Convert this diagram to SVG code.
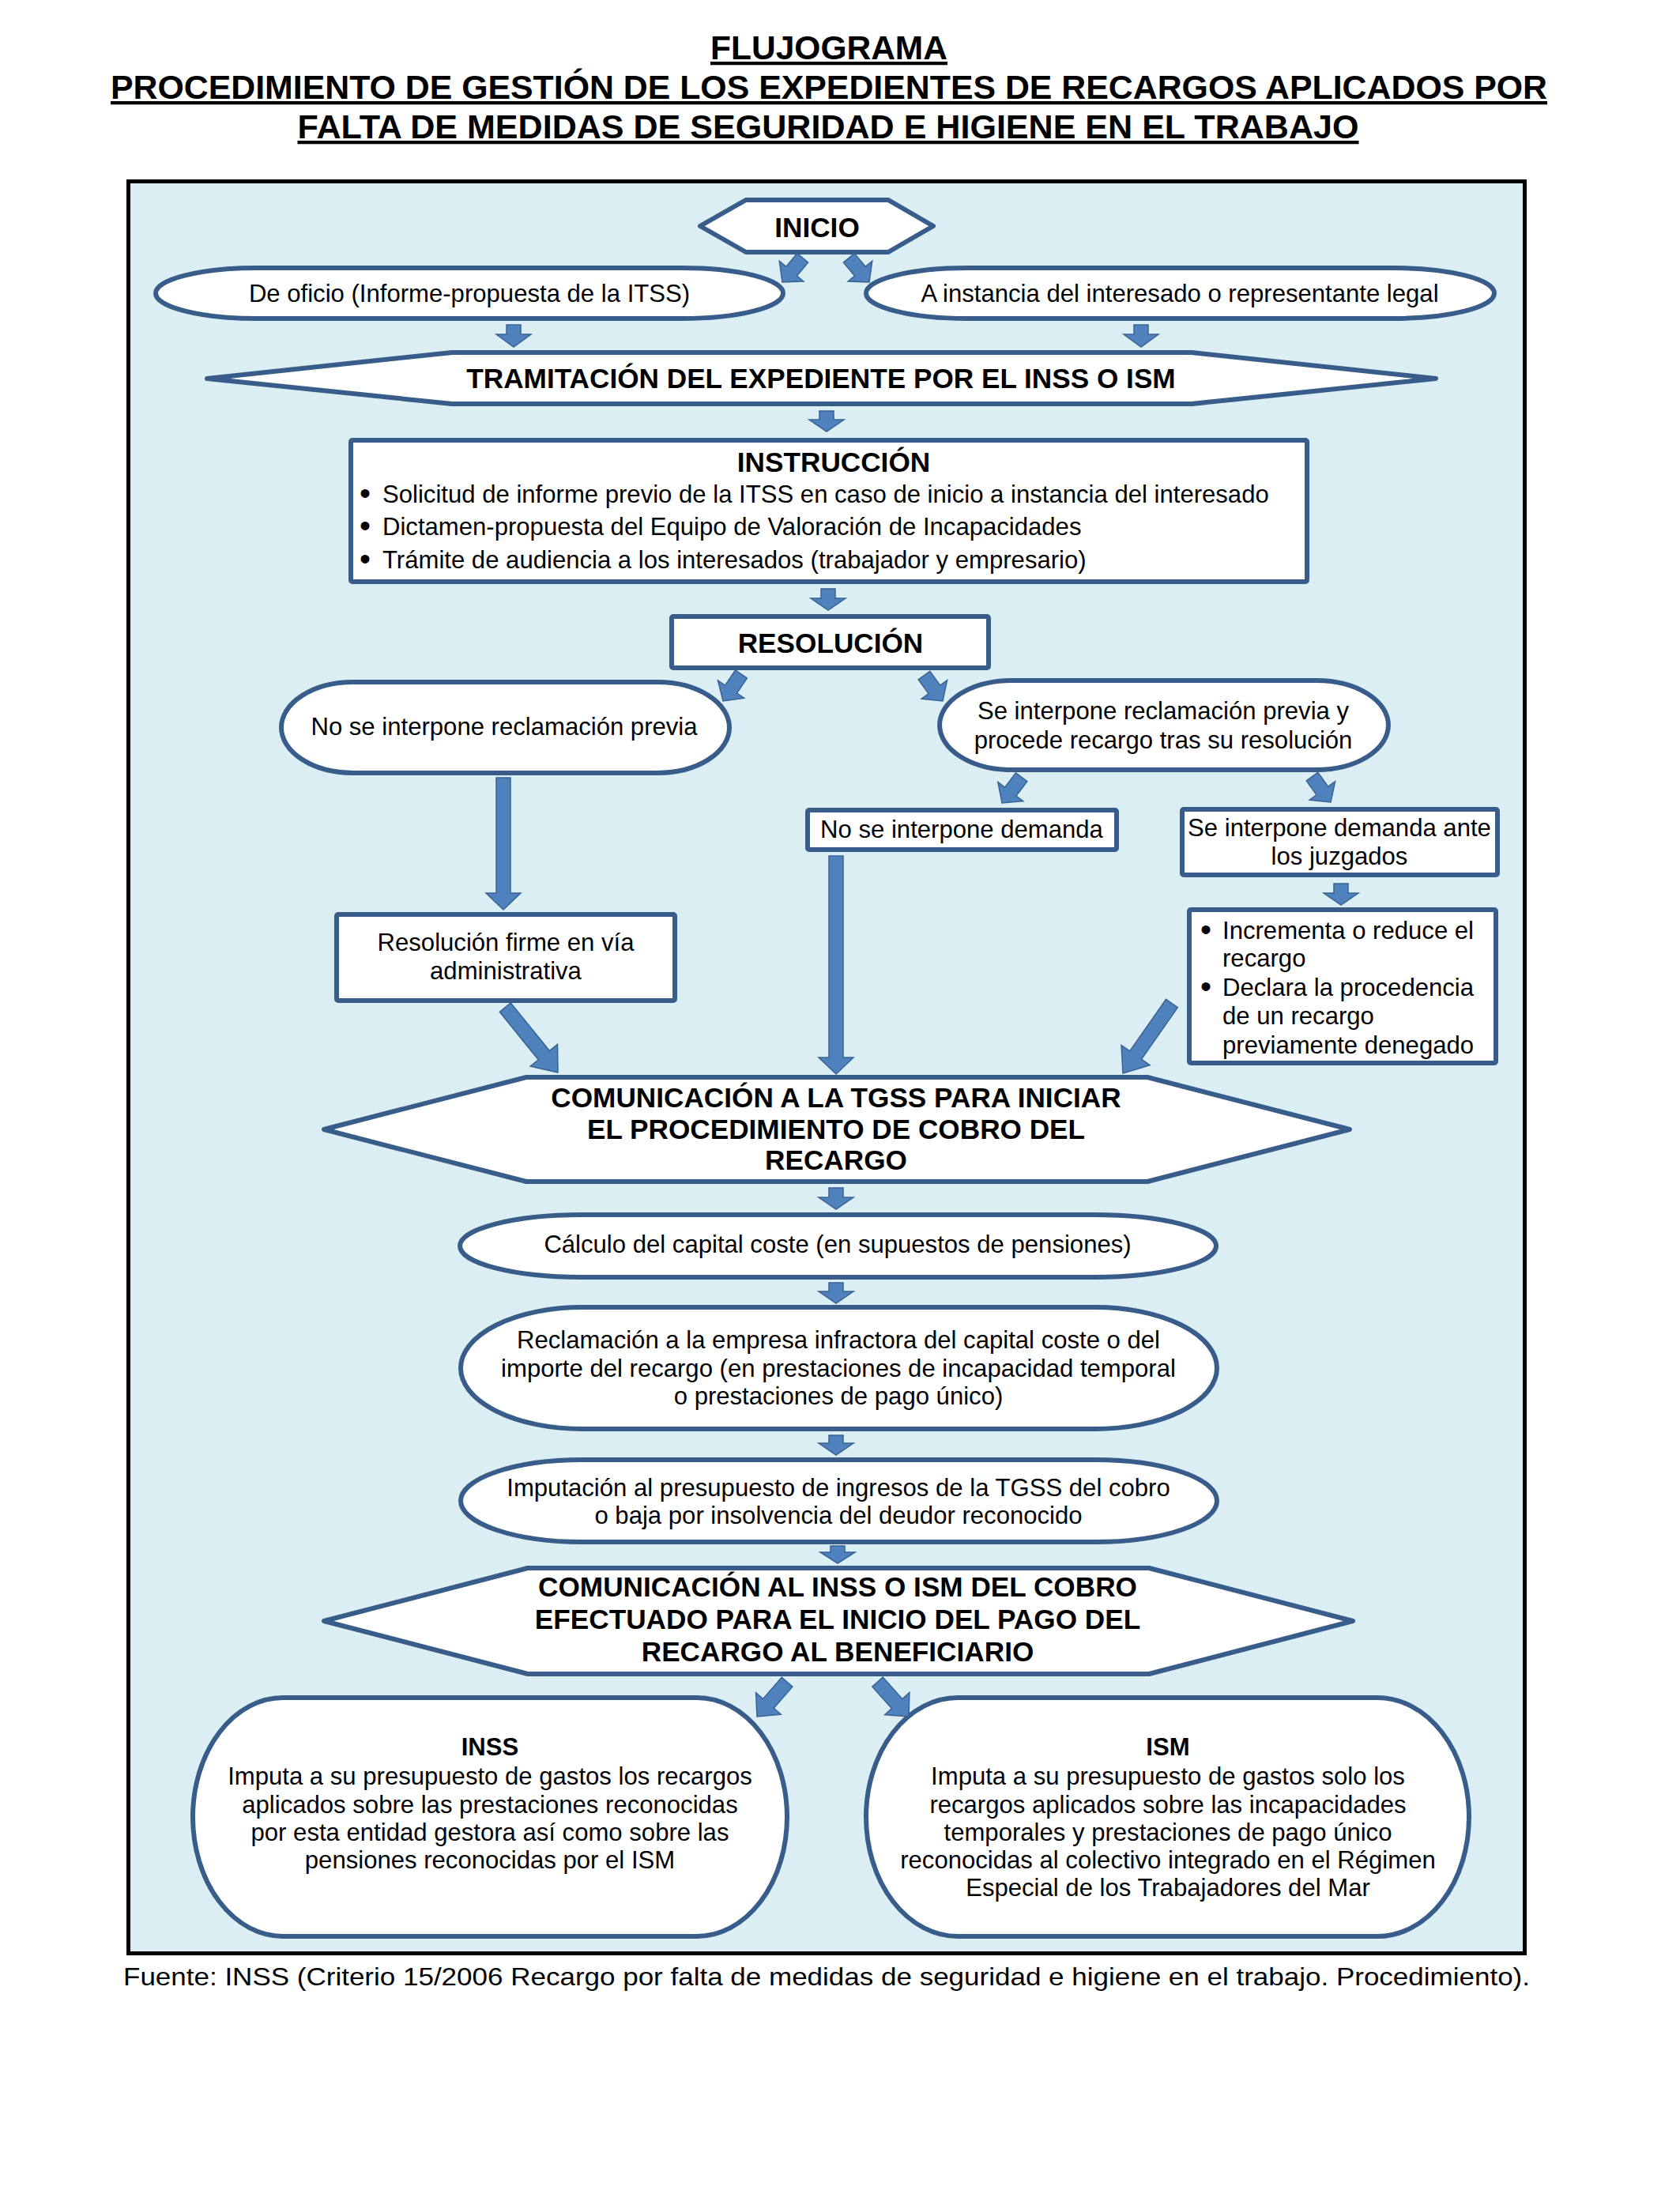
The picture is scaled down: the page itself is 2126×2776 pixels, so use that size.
<svg xmlns="http://www.w3.org/2000/svg" width="2126" height="2776" viewBox="0 0 2126 2776">
<style>
.t{font-family:"Liberation Sans",Arial,sans-serif;font-size:31.1px;fill:#000;text-anchor:middle}
.s{text-anchor:start}
.bu{font-size:40px}
.b{font-weight:bold;font-size:35.2px}
.bs{font-weight:bold}
.ttl{font-family:"Liberation Sans",Arial,sans-serif;font-weight:bold;font-size:42.6px;text-anchor:middle;text-decoration:underline;fill:#000}
.node{fill:#fff;stroke:#385D8A;stroke-width:6;stroke-linejoin:round}
.arr{fill:#4F81BD;stroke:#3A6394;stroke-width:1.5}
</style>
<rect width="2126" height="2776" fill="#fff"/>
<g id="title">
<text class="ttl" x="1049" y="75" textLength="300" lengthAdjust="spacingAndGlyphs">FLUJOGRAMA</text>
<text class="ttl" x="1049" y="125" textLength="1818" lengthAdjust="spacingAndGlyphs">PROCEDIMIENTO DE GESTIÓN DE LOS EXPEDIENTES DE RECARGOS APLICADOS POR</text>
<text class="ttl" x="1048" y="175" textLength="1343" lengthAdjust="spacingAndGlyphs">FALTA DE MEDIDAS DE SEGURIDAD E HIGIENE EN EL TRABAJO</text>
</g>
<rect id="frame" x="162.5" y="229.5" width="1767" height="2242" fill="#DBEEF4" stroke="#000" stroke-width="5"/>
<g id="n-inicio">
<path class="node" d="M886,286 L944,253 H1124 L1181,286 L1124,319 H944 Z"/>
<text class="t b" x="1034" y="300">INICIO</text>
</g>
<g id="n-oficio">
<path class="node" d="M325,339 H863 A128,32 0 0 1 863,403 H325 A128,32 0 0 1 325,339 Z"/>
<text class="t" x="594" y="382">De oficio (Informe-propuesta de la ITSS)</text>
</g>
<g id="n-instancia">
<path class="node" d="M1224,339 H1763 A128,32 0 0 1 1763,403 H1224 A128,32 0 0 1 1224,339 Z"/>
<text class="t" x="1493" y="382">A instancia del interesado o representante legal</text>
</g>
<g id="n-tramitacion">
<path class="node" d="M262,479 L572,446 H1508 L1817,479 L1508,511 H572 Z"/>
<text class="t b" x="1039" y="491">TRAMITACIÓN DEL EXPEDIENTE POR EL INSS O ISM</text>
</g>
<g id="n-instruccion">
<rect class="node" x="444" y="557" width="1210" height="179" rx="2"/>
<text class="t b" x="1055" y="597">INSTRUCCIÓN</text>
<text class="t bu" x="462" y="638">•</text>
<text class="t s" x="484" y="636">Solicitud de informe previo de la ITSS en caso de inicio a instancia del interesado</text>
<text class="t bu" x="462" y="679">•</text>
<text class="t s" x="484" y="677">Dictamen-propuesta del Equipo de Valoración de Incapacidades</text>
<text class="t bu" x="462" y="721">•</text>
<text class="t s" x="484" y="719">Trámite de audiencia a los interesados (trabajador y empresario)</text>
</g>
<g id="n-resolucion">
<rect class="node" x="850" y="780" width="401" height="65" rx="2"/>
<text class="t b" x="1051" y="826">RESOLUCIÓN</text>
</g>
<g id="n-noreclamacion">
<path class="node" d="M447,863 H832 A91,57.5 0 0 1 832,978 H447 A91,57.5 0 0 1 447,863 Z"/>
<text class="t" x="638" y="930">No se interpone reclamación previa</text>
</g>
<g id="n-sireclamacion">
<path class="node" d="M1280,861 H1666 A91,56.5 0 0 1 1666,974 H1280 A91,56.5 0 0 1 1280,861 Z"/>
<text class="t" x="1472" y="910">Se interpone reclamación previa y</text>
<text class="t" x="1472" y="947">procede recargo tras su resolución</text>
</g>
<g id="n-nodemanda">
<rect class="node" x="1022" y="1025" width="391" height="50" rx="2"/>
<text class="t" x="1217" y="1060">No se interpone demanda</text>
</g>
<g id="n-sidemanda">
<rect class="node" x="1496" y="1024" width="399" height="83" rx="2"/>
<text class="t" x="1695" y="1058">Se interpone demanda ante</text>
<text class="t" x="1695" y="1094">los juzgados</text>
</g>
<g id="n-firme">
<rect class="node" x="426" y="1157" width="428" height="109" rx="2"/>
<text class="t" x="640" y="1203">Resolución firme en vía</text>
<text class="t" x="640" y="1239">administrativa</text>
</g>
<g id="n-sentencia">
<rect class="node" x="1505" y="1151" width="388" height="194" rx="2"/>
<text class="t bu" x="1526" y="1190">•</text>
<text class="t s" x="1547" y="1188">Incrementa o reduce el</text>
<text class="t s" x="1547" y="1223">recargo</text>
<text class="t bu" x="1526" y="1262">•</text>
<text class="t s" x="1547" y="1260">Declara la procedencia</text>
<text class="t s" x="1547" y="1296">de un recargo</text>
<text class="t s" x="1547" y="1333">previamente denegado</text>
</g>
<g id="n-tgss">
<path class="node" d="M410,1429 L666,1363 H1452 L1708,1429 L1452,1495 H666 Z"/>
<text class="t b" x="1058" y="1401">COMUNICACIÓN A LA TGSS PARA INICIAR</text>
<text class="t b" x="1058" y="1441">EL PROCEDIMIENTO DE COBRO DEL</text>
<text class="t b" x="1058" y="1480">RECARGO</text>
</g>
<g id="n-calculo">
<path class="node" d="M736,1537 H1385 A154,39.5 0 0 1 1385,1616 H736 A154,39.5 0 0 1 736,1537 Z"/>
<text class="t" x="1060" y="1585">Cálculo del capital coste (en supuestos de pensiones)</text>
</g>
<g id="n-reclamacion">
<path class="node" d="M737,1654 H1386 A154,77 0 0 1 1386,1808 H737 A154,77 0 0 1 737,1654 Z"/>
<text class="t" x="1061" y="1706">Reclamación a la empresa infractora del capital coste o del</text>
<text class="t" x="1061" y="1742">importe del recargo (en prestaciones de incapacidad temporal</text>
<text class="t" x="1061" y="1777">o prestaciones de pago único)</text>
</g>
<g id="n-imputacion">
<path class="node" d="M737,1847 H1386 A154,52 0 0 1 1386,1951 H737 A154,52 0 0 1 737,1847 Z"/>
<text class="t" x="1061" y="1893">Imputación al presupuesto de ingresos de la TGSS del cobro</text>
<text class="t" x="1061" y="1928">o baja por insolvencia del deudor reconocido</text>
</g>
<g id="n-cominss">
<path class="node" d="M410,2051 L668,1984 H1454 L1712,2051 L1454,2118 H668 Z"/>
<text class="t b" x="1060" y="2020">COMUNICACIÓN AL INSS O ISM DEL COBRO</text>
<text class="t b" x="1060" y="2061">EFECTUADO PARA EL INICIO DEL PAGO DEL</text>
<text class="t b" x="1060" y="2102">RECARGO AL BENEFICIARIO</text>
</g>
<g id="n-inss">
<path class="node" d="M358,2148 H882 A114,151 0 0 1 882,2450 H358 A114,151 0 0 1 358,2148 Z"/>
<text class="t bs" x="620" y="2221">INSS</text>
<text class="t" x="620" y="2258">Imputa a su presupuesto de gastos los recargos</text>
<text class="t" x="620" y="2294">aplicados sobre las prestaciones reconocidas</text>
<text class="t" x="620" y="2329">por esta entidad gestora así como sobre las</text>
<text class="t" x="620" y="2364">pensiones reconocidas por el ISM</text>
</g>
<g id="n-ism">
<path class="node" d="M1212,2148 H1743 A116,151 0 0 1 1743,2450 H1212 A116,151 0 0 1 1212,2148 Z"/>
<text class="t bs" x="1478" y="2221">ISM</text>
<text class="t" x="1478" y="2258">Imputa a su presupuesto de gastos solo los</text>
<text class="t" x="1478" y="2294">recargos aplicados sobre las incapacidades</text>
<text class="t" x="1478" y="2329">temporales y prestaciones de pago único</text>
<text class="t" x="1478" y="2364">reconocidas al colectivo integrado en el Régimen</text>
<text class="t" x="1478" y="2399">Especial de los Trabajadores del Mar</text>
</g>
<g id="connectors">
<path class="arr" transform="translate(990,357) rotate(40)" d="M-9,-40H9V-18H20L0,0L-20,-18H-9Z"/>
<path class="arr" transform="translate(1100,357) rotate(-40)" d="M-9,-40H9V-18H20L0,0L-20,-18H-9Z"/>
<path class="arr" transform="translate(650,439)" d="M-9,-28H9V-16H22L0,0L-22,-16H-9Z"/>
<path class="arr" transform="translate(1444,439)" d="M-9,-28H9V-16H22L0,0L-22,-16H-9Z"/>
<path class="arr" transform="translate(1046,546)" d="M-9,-26H9V-15H22L0,0L-22,-15H-9Z"/>
<path class="arr" transform="translate(1048,772)" d="M-9,-27H9V-15H22L0,0L-22,-15H-9Z"/>
<path class="arr" transform="translate(915,887) rotate(34)" d="M-9,-41H9V-18H20L0,0L-20,-18H-9Z"/>
<path class="arr" transform="translate(1193,887) rotate(-36)" d="M-9,-40H9V-18H20L0,0L-20,-18H-9Z"/>
<path class="arr" transform="translate(1268,1016) rotate(37)" d="M-9,-41H9V-18H20L0,0L-20,-18H-9Z"/>
<path class="arr" transform="translate(1684,1015) rotate(-36)" d="M-9,-40H9V-18H20L0,0L-20,-18H-9Z"/>
<path class="arr" transform="translate(637,1151)" d="M-9,-167H9V-21H22L0,0L-22,-21H-9Z"/>
<path class="arr" transform="translate(1058,1359)" d="M-9,-276H9V-21H22L0,0L-22,-21H-9Z"/>
<path class="arr" transform="translate(1697,1145)" d="M-9,-27H9V-15H22L0,0L-22,-15H-9Z"/>
<path class="arr" transform="translate(706,1357) rotate(-39)" d="M-9,-106H9V-28H22L0,0L-22,-28H-9Z"/>
<path class="arr" transform="translate(1421,1358) rotate(35)" d="M-9,-108H9V-28H22L0,0L-22,-28H-9Z"/>
<path class="arr" transform="translate(1058,1530)" d="M-9,-27H9V-15H22L0,0L-22,-15H-9Z"/>
<path class="arr" transform="translate(1058,1649)" d="M-9,-26H9V-15H22L0,0L-22,-15H-9Z"/>
<path class="arr" transform="translate(1058,1841)" d="M-9,-25H9V-15H22L0,0L-22,-15H-9Z"/>
<path class="arr" transform="translate(1060,1978)" d="M-9,-22H9V-14H22L0,0L-22,-14H-9Z"/>
<path class="arr" transform="translate(958,2172) rotate(41)" d="M-9,-58H9V-22H21L0,0L-21,-22H-9Z"/>
<path class="arr" transform="translate(1150,2172) rotate(-42)" d="M-9,-59H9V-22H21L0,0L-21,-22H-9Z"/>
</g>
<text id="footer" class="t" x="1046" y="2512" style="font-size:31.5px" textLength="1780" lengthAdjust="spacingAndGlyphs">Fuente: INSS (Criterio 15/2006 Recargo por falta de medidas de seguridad e higiene en el trabajo. Procedimiento).</text>
</svg>
